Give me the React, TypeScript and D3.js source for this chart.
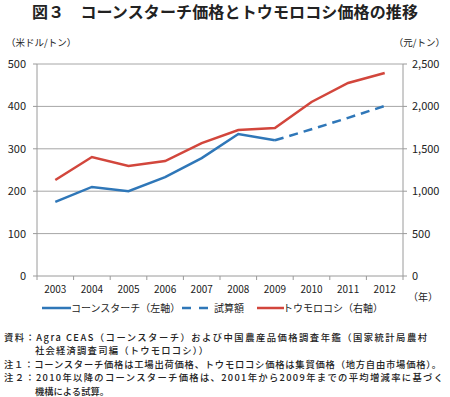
import React from "react";
import * as d3 from "d3";

const years = ["2003", "2004", "2005", "2006", "2007", "2008", "2009", "2010", "2011", "2012"];
const starch = [175, 210, 200, 233, 278, 335, 320];
const estimate = [320, 346, 373, 401]; // 2009-2012
const maize = [1132, 1403, 1297, 1356, 1568, 1722, 1745, 2052, 2276, 2394];
const leftTicks = [0, 100, 200, 300, 400, 500];
const rightTicks = [0, 500, 1000, 1500, 2000, 2500];
const notes = [
  "資料：Agra CEAS（コーンスターチ）および中国農産品価格調査年鑑（国家統計局農村",
  "社会経済調査司編（トウモロコシ））",
  "注１：コーンスターチ価格は工場出荷価格、トウモロコシ価格は集貿価格（地方自由市場価格）。",
  "注２：2010年以降のコーンスターチ価格は、2001年から2009年までの平均増減率に基づく",
  "機構による試算。",
];
const noteX = [4, 35, 4, 4, 35];
const noteW = [423, 173, 437, 439, 74];

const BLUE = "#2f77b8";
const RED = "#d2463c";
const FONT = "'Noto Sans CJK JP', sans-serif";

export default function App() {
  const W = 450, H = 397;
  const left = 37, right = 403, top = 64, bottom = 276;

  const x = d3.scaleBand().domain(years).range([left, right]);
  const cx = (y: string) => (x(y) as number) + x.bandwidth() / 2;
  const yL = d3.scaleLinear().domain([0, 500]).range([bottom, top]);
  const yR = d3.scaleLinear().domain([0, 2500]).range([bottom, top]);

  const lineL = d3.line<number>().x((_, i) => cx(years[i])).y((d) => yL(d));
  const lineE = d3.line<number>().x((_, i) => cx(years[i + 6])).y((d) => yL(d));
  const lineR = d3.line<number>().x((_, i) => cx(years[i])).y((d) => yR(d));

  const bounds = years.map((y) => x(y) as number).concat([right]);

  return (
    <svg
      width={W}
      height={H}
      style={{ position: "absolute", left: 0, top: 0, background: "#fff" }}
      fontFamily={FONT}
    >
      <text x={32} y={18} fontSize={16} fontWeight="bold" fill="#222" textLength={386} lengthAdjust="spacing">
        図３　コーンスターチ価格とトウモロコシ価格の推移
      </text>
      <text x={6} y={46} fontSize={9.5} fill="#222">（米ドル/トン）</text>
      <text x={445} y={46} fontSize={9.5} fill="#222" textAnchor="end">（元/トン）</text>

      {leftTicks.slice(1).map((t) => (
        <line key={t} x1={left} x2={right} y1={yL(t)} y2={yL(t)} stroke="#a6a6a6" strokeWidth={1} />
      ))}

      {/* axes */}
      <line x1={left} x2={left} y1={top} y2={bottom} stroke="#9a9a9a" />
      <line x1={right} x2={right} y1={top} y2={bottom} stroke="#9a9a9a" />
      <line x1={left} x2={right} y1={bottom} y2={bottom} stroke="#9a9a9a" />
      {leftTicks.map((t) => (
        <g key={"l" + t}>
          <line x1={left - 4} x2={left} y1={yL(t)} y2={yL(t)} stroke="#9a9a9a" />
          <text x={26} y={yL(t) + 4} textAnchor="end" fontSize={11} fill="#222">{t}</text>
        </g>
      ))}
      {rightTicks.map((t) => (
        <g key={"r" + t}>
          <line x1={right} x2={right + 4} y1={yR(t)} y2={yR(t)} stroke="#9a9a9a" />
          <text x={412} y={yR(t) + 4} fontSize={11} fill="#222">{d3.format(",")(t)}</text>
        </g>
      ))}
      {bounds.map((b, i) => (
        <line key={"b" + i} x1={b} x2={b} y1={bottom} y2={bottom + 4} stroke="#9a9a9a" />
      ))}
      {years.map((y) => (
        <text key={y} x={cx(y)} y={293} textAnchor="middle" fontSize={10} fill="#222">{y}</text>
      ))}
      <text x={423} y={301} textAnchor="middle" fontSize={10} fill="#222">（年）</text>

      <path d={lineR(maize) || ""} fill="none" stroke={RED} strokeWidth={2.5} />
      <path d={lineL(starch) || ""} fill="none" stroke={BLUE} strokeWidth={2.5} />
      <path d={lineE(estimate) || ""} fill="none" stroke={BLUE} strokeWidth={2.5} strokeDasharray="9,6" />

      {/* legend */}
      <line x1={42} x2={71} y1={308} y2={308} stroke={BLUE} strokeWidth={2.5} />
      <text x={71} y={312} fontSize={10} fill="#222">コーンスターチ（左軸）</text>
      <line x1={182} x2={208} y1={308} y2={308} stroke={BLUE} strokeWidth={2.5} strokeDasharray="9,8" />
      <text x={214} y={312} fontSize={10} fill="#222">試算額</text>
      <line x1={257} x2={284} y1={308} y2={308} stroke={RED} strokeWidth={2.5} />
      <text x={283} y={312} fontSize={10} fill="#222">トウモロコシ（右軸）</text>

      {notes.map((n, i) => (
        <text
          key={i}
          x={noteX[i]}
          y={340.5 + i * 13.5}
          fontSize={9.3}
          fontWeight={500}
          fill="#222"
          textLength={noteW[i]}
          lengthAdjust="spacing"
        >
          {n}
        </text>
      ))}
    </svg>
  );
}
